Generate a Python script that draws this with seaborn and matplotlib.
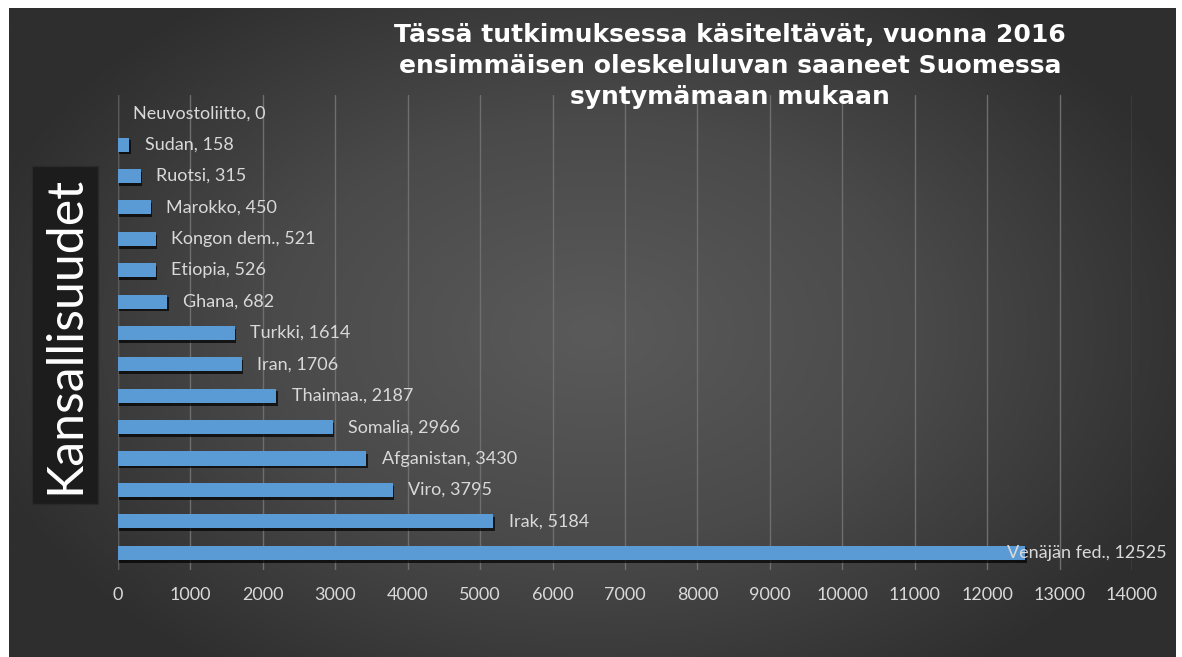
import matplotlib
matplotlib.use("Agg")
import matplotlib.pyplot as plt
import matplotlib.patheffects as pe
import matplotlib.colors as mcolors
from matplotlib.patches import Rectangle
import numpy as np
import pandas as pd
import seaborn as sns

# Data (top to bottom)
maat = ["Neuvostoliitto", "Sudan", "Ruotsi", "Marokko", "Kongon dem.", "Etiopia",
        "Ghana", "Turkki", "Iran", "Thaimaa.", "Somalia", "Afganistan", "Viro",
        "Irak", "Venäjän fed."]
luvut = [0, 158, 315, 450, 521, 526, 682, 1614, 1706, 2187, 2966, 3430, 3795,
         5184, 12525]
xtikit = list(range(0, 14001, 1000))

otsikko = ("Tässä tutkimuksessa käsiteltävät, vuonna 2016\n"
           "ensimmäisen oleskeluluvan saaneet Suomessa\n"
           "syntymämaan mukaan")

df = pd.DataFrame({"maa": maat, "luku": luvut})

sns.set_style("dark")
plt.rcParams["font.family"] = ["Lato", "DejaVu Sans"]

W, H = 1182, 657
fig = plt.figure(figsize=(11.82, 6.57), dpi=100)
fig.patch.set_facecolor("#2e2e2e")

# taustan liukuväri (tumma reunoilta, vaaleampi keskeltä)
tausta = fig.add_axes([9 / W, 0, (1176 - 9) / W, 1 - 8 / H])
xx, yy = np.meshgrid(np.linspace(-1, 1, 400), np.linspace(-1, 1, 250))
r = np.sqrt((xx / 1.1) ** 2 + (yy / 1.3) ** 2)
cmap = mcolors.LinearSegmentedColormap.from_list("bg", ["#5a5a5a", "#4a4a4a", "#2e2e2e"])
tausta.imshow(np.clip(r, 0, 1), cmap=cmap, aspect="auto", extent=[0, 1, 0, 1])
tausta.set_xlim(0, 1)
tausta.set_ylim(0, 1)
tausta.axis("off")

# valkoiset reunat vasemmalla, ylhäällä ja oikealla
for (x0, y0, w, h) in [(0, 0, 9, H), (0, H - 8, W, 8), (1176, 0, W - 1176, H)]:
    fig.patches.append(Rectangle((x0 / W, y0 / H), w / W, h / H, transform=fig.transFigure,
                                 facecolor="white", edgecolor="none", zorder=10))

ax = fig.add_axes([118 / W, 1 - 570 / H, (1132 - 118) / W, (570 - 95) / H])
ax.patch.set_alpha(0)

sns.barplot(data=df, x="luku", y="maa", orient="h", color="#5b9bd5",
            saturation=1, width=0.45, linewidth=0, edgecolor="none", ax=ax, zorder=3)
for bar in ax.patches:
    bar.set_linewidth(0)
    bar.set_path_effects([pe.SimplePatchShadow(offset=(1, -2), shadow_rgbFace="black", alpha=0.7),
                          pe.Normal()])

ax.set_xlim(0, 14000)
ax.set_ylim(14.55, -0.58)
ax.set_xticks(xtikit)
ax.set_xticklabels([str(t) for t in xtikit], color="#d9d9d9", fontsize=13)
ax.tick_params(axis="x", length=0, pad=12)
ax.set_yticks([])
ax.set_xlabel("")
ax.set_ylabel("")
ax.grid(axis="x", color="#6e6e6e", linewidth=1, zorder=0)
ax.grid(axis="y", visible=False)
ax.axvline(0, color="#5a5a5a", linewidth=1, zorder=1)
for s in ax.spines.values():
    s.set_visible(False)

# arvojen nimilaput
for i, (m, v) in enumerate(zip(maat, luvut)):
    teksti = f"{m}, {v}"
    if v > 11000:
        ax.annotate(teksti, xy=(1.034, i), xycoords=("axes fraction", "data"),
                    ha="right", va="center", color="#d9d9d9", fontsize=13,
                    annotation_clip=False, zorder=5)
    else:
        ax.annotate(teksti, xy=(v, i), xytext=(11, 0), textcoords="offset points",
                    ha="left", va="center", color="#d9d9d9", fontsize=13, zorder=5)

fig.text(730 / W, 1 - 66 / H, otsikko, ha="center", va="center", color="white",
         fontsize=18, fontweight="bold", family=["DejaVu Sans"],
         linespacing=1.35)

fig.text(65 / W, 1 - 335 / H, "Kansallisuudet", rotation=90, ha="center", va="center",
         color="white", fontsize=36,
         bbox=dict(boxstyle="square,pad=0.2", facecolor="#1c1c1c", edgecolor="#2a2a2a"))

fig.savefig("out.png", dpi=100, facecolor=fig.get_facecolor())
